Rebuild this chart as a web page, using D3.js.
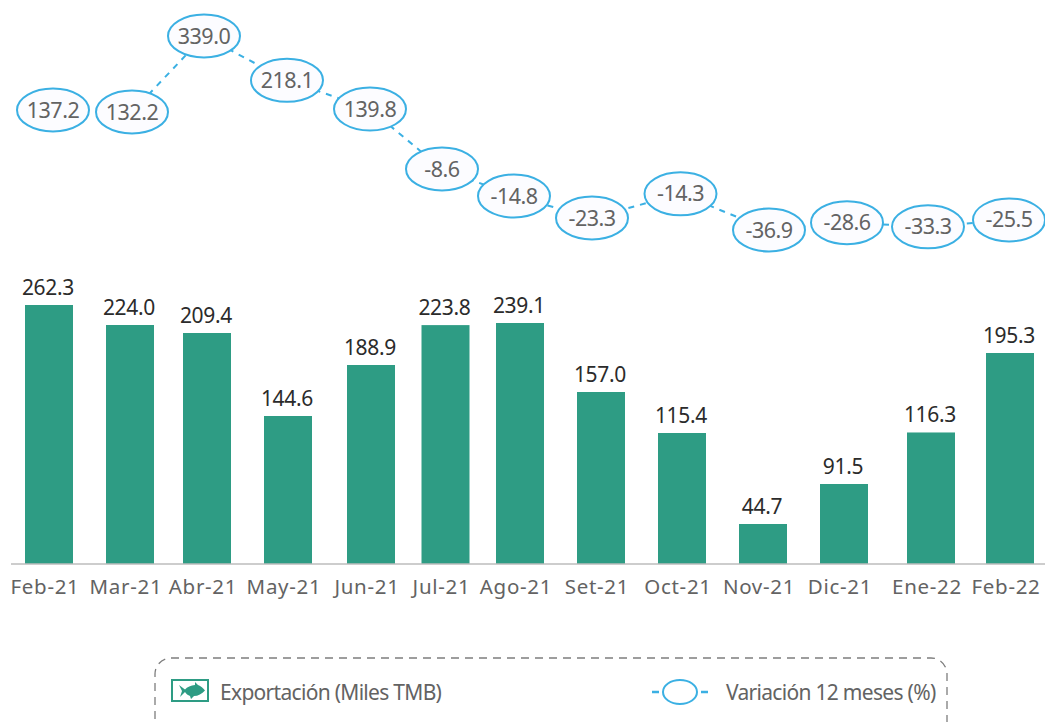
<!DOCTYPE html>
<html><head><meta charset="utf-8">
<script src="https://cdn.jsdelivr.net/npm/d3@7/dist/d3.min.js"></script>
<style>
html,body{margin:0;padding:0;background:#fff;overflow:hidden}
text{font-family:"Noto Sans",sans-serif}
</style></head><body><svg id="c" width="1045" height="722"></svg>
<script>
const months=["Feb-21","Mar-21","Abr-21","May-21","Jun-21","Jul-21","Ago-21","Set-21","Oct-21","Nov-21","Dic-21","Ene-22","Feb-22"];
const exportsTMB=[262.3,224.0,209.4,144.6,188.9,223.8,239.1,157.0,115.4,44.7,91.5,116.3,195.3];
const variation=[137.2,132.2,339.0,218.1,139.8,-8.6,-14.8,-23.3,-14.3,-36.9,-28.6,-33.3,-25.5];
const legendBars="Exportación (Miles TMB)", legendLine="Variación 12 meses (%)";

const svg=d3.select("#c");
const green="#2e9c84", blue="#3bb0e3", grey="#636363", dark="#2b2b2b";
const barW=48, baseY=564;
// The reference spacing and heights are hand-laid, so the scales are piecewise.
const xBar=d3.scaleLinear().domain([0,1,2,3,4,6,10,11,12]).range([25,106,183,264,347,496,820,907,986]);
const xDot=d3.scaleLinear().domain([0,1,2,4,6,7,9,10,12]).range([53,132,204,370,514,592,769,847,1009]);
const yBar=d3.scaleLinear().domain([0,44.7,91.5,115.4,144.6,157,188.9,195.3,209.4,224,239.1,262.3])
  .range([baseY,524,484,433,416,392,365,353,333,325,323,305]);
const yDot=d3.scaleLinear().domain([-36.9,-23.3,-14.8,-8.6,137.2,339]).range([230,218,196,169,110,36]);

// bars
svg.append("g").selectAll("rect").data(exportsTMB).join("rect")
  .attr("x",(d,i)=>xBar(i)).attr("y",d=>yBar(d)).attr("width",barW)
  .attr("height",d=>baseY-yBar(d)).attr("fill",green);
svg.append("g").selectAll("text").data(exportsTMB).join("text")
  .attr("x",(d,i)=>xBar(i)+barW/2-1).attr("y",d=>yBar(d)-10)
  .attr("text-anchor","middle").attr("font-size",21).attr("letter-spacing",-0.3)
  .attr("fill",dark).text(d=>d.toFixed(1));

// axis
const axisG=svg.append("g").attr("transform",`translate(0,${baseY})`);
axisG.append("line").attr("x1",11).attr("x2",1045).attr("stroke","#bdbdbd").attr("stroke-width",1.5);
axisG.selectAll("text").data(months).join("text")
  .attr("x",(d,i)=>xBar(i)+barW/2-4).attr("y",30)
  .attr("text-anchor","middle").attr("font-size",20.5).attr("letter-spacing",0.7)
  .attr("fill",grey).text(d=>d);

// variation line
const line=d3.line().x(d=>xDot(d.i)).y(d=>yDot(d.v));
const pts=variation.map((v,i)=>({v,i}));
svg.append("path").attr("d",line(pts.slice(1))).attr("fill","none")
  .attr("stroke",blue).attr("stroke-width",2).attr("stroke-dasharray","6 6");
const dots=svg.append("g").selectAll("g").data(pts).join("g")
  .attr("transform",d=>`translate(${xDot(d.i)},${yDot(d.v)})`);
dots.append("ellipse").attr("rx",36).attr("ry",21.5)
  .attr("fill","#fcfcff").attr("stroke",blue).attr("stroke-width",2);
dots.append("text").attr("text-anchor","middle").attr("dy",7.5)
  .attr("font-size",21.5).attr("letter-spacing",-0.5).attr("fill",grey)
  .text(d=>d.v.toFixed(1));

// legend
svg.append("rect").attr("x",155).attr("y",658).attr("width",792).attr("height",90).attr("rx",16)
  .attr("fill","none").attr("stroke","#7d7d7d").attr("stroke-width",1.3).attr("stroke-dasharray","8 6");
const lg=svg.append("g");
lg.append("rect").attr("x",172).attr("y",680).attr("width",36).attr("height",21)
  .attr("fill","#fff").attr("stroke",green).attr("stroke-width",2);
// fish glyph
lg.append("path").attr("fill",green)
  .attr("d","M179 685 L185 689.5 C187 687 191 685.5 195 685 L195 682 L198 685 C201 686 203 688 205 690.5 C202 694 198 696 194 696 L191 699 L190 696 C188 695 186 694 185 692 L180 697 L182 691 Z");
lg.append("text").attr("x",220).attr("y",700).attr("font-size",21).attr("letter-spacing",-0.7)
  .attr("fill",grey).text(legendBars);
lg.append("line").attr("x1",652).attr("x2",708).attr("y1",692).attr("y2",692)
  .attr("stroke",blue).attr("stroke-width",2.5).attr("stroke-dasharray","7 42 7");
lg.append("ellipse").attr("cx",680).attr("cy",692).attr("rx",17).attr("ry",12)
  .attr("fill","#fff").attr("stroke",blue).attr("stroke-width",2);
lg.append("text").attr("x",726).attr("y",700).attr("font-size",21).attr("letter-spacing",-0.7)
  .attr("fill",grey).text(legendLine);
</script></body></html>
